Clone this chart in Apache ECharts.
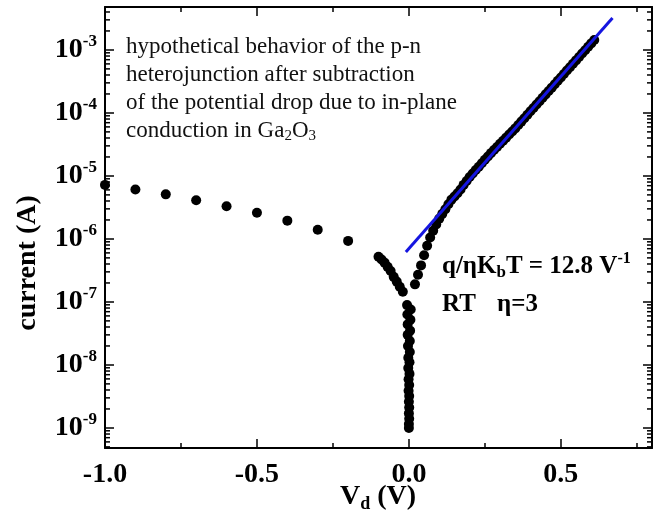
<!doctype html>
<html>
<head>
<meta charset="utf-8">
<title>iv-curve</title>
<script src="https://cdn.jsdelivr.net/npm/echarts@6/dist/echarts.min.js"></script>
<style>
    html,body{margin:0;padding:0;background:#fff;}
    #ID-Chart{width:657px;height:517px;}
</style>
</head>
<body>
<div id="ID-Chart"></div>
<script>
// reverse bias, coarse steps
var revV = [-1.0, -0.9, -0.8, -0.7, -0.6, -0.5, -0.4, -0.3, -0.2];
var revI = [7.2e-6, 6.1e-6, 5.1e-6, 4.1e-6, 3.3e-6, 2.6e-6, 1.95e-6, 1.4e-6, 9.3e-7];
// reverse bias close to zero
var nearV = [-0.10, -0.09, -0.08, -0.07, -0.06, -0.05, -0.04, -0.03, -0.02];
var nearI = [5.2e-7, 4.7e-7, 4.2e-7, 3.6e-7, 3.1e-7, 2.5e-7, 2.1e-7, 1.74e-7, 1.45e-7];
// the dip around 0 V
var colV = [-0.006, 0.006, -0.005, 0.005, -0.004, 0.004, -0.004, 0.003, -0.003, 0.003, -0.002, 0.002,
            -0.002, 0.002, -0.001, 0.001, -0.001, 0.001, 0.0, 0.001, 0.0, 0.001, 0.0, 0.0];
var colI = [8.9e-8, 7.6e-8, 6.3e-8, 5.2e-8, 4.4e-8, 3.5e-8, 3.0e-8, 2.4e-8, 2.0e-8, 1.6e-8, 1.3e-8, 1.1e-8,
            8.9e-9, 7.2e-9, 5.9e-9, 4.8e-9, 3.9e-9, 3.2e-9, 2.6e-9, 2.1e-9, 1.7e-9, 1.4e-9, 1.15e-9, 1.0e-9];
// forward bias
var fwdV = [0.02, 0.03, 0.04, 0.05, 0.06, 0.07, 0.08, 0.09, 0.10, 0.11, 0.12, 0.13, 0.14, 0.15, 0.16, 0.17,
            0.18, 0.19, 0.20, 0.21, 0.22, 0.23, 0.24, 0.25, 0.26, 0.27, 0.28, 0.29, 0.30, 0.31, 0.32, 0.33,
            0.34, 0.35, 0.36, 0.37, 0.38, 0.39, 0.40, 0.41, 0.42, 0.43, 0.44, 0.45, 0.46, 0.47, 0.48, 0.49,
            0.50, 0.51, 0.52, 0.53, 0.54, 0.55, 0.56, 0.57, 0.58, 0.59, 0.60, 0.61];
var fwdI = [1.9e-7, 2.7e-7, 3.8e-7, 5.5e-7, 7.8e-7, 1.05e-6, 1.35e-6, 1.7e-6, 2.1e-6, 2.5e-6, 2.95e-6, 3.55e-6,
            4.2e-6, 4.7e-6, 5.3e-6, 6.1e-6, 7.2e-6, 8.3e-6, 9.6e-6, 1.09e-5, 1.24e-5, 1.4e-5, 1.59e-5, 1.8e-5,
            2.03e-5, 2.3e-5, 2.58e-5, 2.88e-5, 3.23e-5, 3.61e-5, 4.05e-5, 4.53e-5, 5.07e-5, 5.68e-5, 6.43e-5, 7.28e-5,
            8.24e-5, 9.33e-5, 1.06e-4, 1.2e-4, 1.36e-4, 1.53e-4, 1.74e-4, 1.97e-4, 2.23e-4, 2.52e-4, 2.86e-4, 3.24e-4,
            3.66e-4, 4.15e-4, 4.7e-4, 5.32e-4, 6.03e-4, 6.82e-4, 7.73e-4, 8.75e-4, 9.91e-4, 1.12e-3, 1.27e-3, 1.44e-3];
// fitted line q/nkT = 12.8 1/V
var fitV = [-0.01, 0.67];
var fitI = [6.2e-7, 3.2e-3];

// axes
var xMin = -1.0, xMax = 0.8;
var yMin = 4.8e-10, yMax = 4.8e-3;
var xTickStep = 0.5, xMinorStep = 0.25;

function pairs(xs, ys){
    var out = [];
    for (var i = 0; i < xs.length; i++) out.push([xs[i], ys[i]]);
    return out;
}

// log minor ticks 2..9 per decade
function minorTickValues(){
    var list = [];
    for (var k = -10; k <= -3; k++) {
        for (var m = 2; m <= 9; m++) {
            var v = m * Math.pow(10, k);
            if (v > yMin && v < yMax) list.push([xMin, v]);
        }
    }
    return list;
}

var serif = 'Liberation Serif';

function xAxisCfg(pos, step, len, showLine, showLabel){
    return {
        type: 'value', position: pos, min: xMin, max: xMax, interval: step,
        axisLine: {show: showLine, onZero: false, lineStyle: {color: '#000', width: 2}},
        axisTick: {show: true, inside: true, length: len, lineStyle: {color: '#000', width: 1.5}},
        splitLine: {show: false},
        axisLabel: {
            show: showLabel, margin: 13, color: '#000',
            fontFamily: serif, fontWeight: 'bold', fontSize: 28,
            formatter: function(v){
                if (Math.abs(v * 2 - Math.round(v * 2)) > 1e-6) return '';
                return v.toFixed(1);
            }
        }
    };
}

function yAxisCfg(pos, showLabel){
    return {
        type: 'log', position: pos, min: yMin, max: yMax, logBase: 10,
        axisLine: {show: true, onZero: false, lineStyle: {color: '#000', width: 2}},
        axisTick: {show: true, inside: true, length: 9, lineStyle: {color: '#000', width: 1.5}},
        splitLine: {show: false},
        axisLabel: {
            show: showLabel, margin: 8,
            formatter: function(v){
                var e = Math.log10(v), r = Math.round(e);
                if (Math.abs(e - r) > 0.01) return '';
                return '{b|10}{s|' + r + '}';
            },
            rich: {
                b: {fontFamily: serif, fontWeight: 'bold', fontSize: 28, color: '#000'},
                s: {fontFamily: serif, fontWeight: 'bold', fontSize: 17, color: '#000', padding: [0, 0, 16, 0]}
            }
        }
    };
}

function initChart(){
    var chart = echarts.init(document.getElementById('ID-Chart'), null, {renderer: 'canvas'});
    var dot = {color: '#000', opacity: 1};
    var annot = 'bold 25px "Liberation Serif"';

    var option = {
        animation: false,
        backgroundColor: '#fff',
        grid: {left: 105, right: 5, top: 7, bottom: 69, containLabel: false, outerBoundsMode: 'none'},
        xAxis: [
            xAxisCfg('bottom', xTickStep, 9, true, true),
            xAxisCfg('bottom', xMinorStep, 5, false, false),
            xAxisCfg('top', xTickStep, 9, true, false),
            xAxisCfg('top', xMinorStep, 5, false, false)
        ],
        yAxis: [yAxisCfg('left', true), yAxisCfg('right', false)],
        graphic: [
            {
                // axis titles placed by hand
                type: 'text', x: 378, y: 497, silent: true,
                style: {
                    text: '{v|V}{d|d}{v| (V)}', align: 'center', verticalAlign: 'middle',
                    rich: {
                        v: {fontFamily: serif, fontWeight: 'bold', fontSize: 28, fill: '#000'},
                        d: {fontFamily: serif, fontWeight: 'bold', fontSize: 18, fill: '#000', padding: [14, 0, 0, 0]}
                    }
                }
            },
            {
                type: 'text', x: 28, y: 263, rotation: Math.PI / 2, silent: true,
                style: {text: 'current (A)', align: 'center', verticalAlign: 'middle',
                        font: 'bold 28px "Liberation Serif"', fill: '#000'}
            },
            {
                type: 'text', left: 126, top: 35, silent: true,
                style: {
                    text: '{t|hypothetical behavior of the p-n}\n{t|heterojunction after subtraction}\n' +
                          '{t|of the potential drop due to in-plane}\n{t|conduction in Ga}{s|2}{t|O}{s|3}',
                    rich: {
                        t: {fontFamily: serif, fontSize: 23, lineHeight: 28, fill: '#111'},
                        s: {fontFamily: serif, fontSize: 15, fill: '#111', padding: [12, 0, 0, 0]}
                    }
                }
            },
            {
                type: 'text', left: 442, top: 251, silent: true,
                style: {
                    text: '{b|q/\u03b7K}{d|b}{b|T = 12.8 V}{u|-1}',
                    rich: {
                        b: {fontFamily: serif, fontWeight: 'bold', fontSize: 25, fill: '#000'},
                        d: {fontFamily: serif, fontWeight: 'bold', fontSize: 17, fill: '#000', padding: [13, 0, 0, 0]},
                        u: {fontFamily: serif, fontWeight: 'bold', fontSize: 16, fill: '#000', padding: [0, 0, 15, 0]}
                    }
                }
            },
            {type: 'text', left: 442, top: 292, silent: true, style: {text: 'RT', font: annot, fill: '#000'}},
            {type: 'text', left: 497, top: 292, silent: true, style: {text: '\u03b7=3', font: annot, fill: '#000'}}
        ],
        series: [
            {
                name: 'minor', type: 'custom', xAxisIndex: 0, yAxisIndex: 0, silent: true, z: 5,
                data: minorTickValues(),
                renderItem: function(params, api){
                    var v = api.value(1);
                    var pl = api.coord([xMin, v]);
                    var pr = api.coord([xMax, v]);
                    var st = {stroke: '#000', lineWidth: 1.5};
                    return {type: 'group', children: [
                        {type: 'line', shape: {x1: pl[0], y1: pl[1], x2: pl[0] + 5, y2: pl[1]}, style: st},
                        {type: 'line', shape: {x1: pr[0], y1: pr[1], x2: pr[0] - 5, y2: pr[1]}, style: st}
                    ]};
                }
            },
            {name: 'reverse', type: 'scatter', symbolSize: 10, itemStyle: dot, data: pairs(revV, revI), z: 3},
            {name: 'near', type: 'scatter', symbolSize: 10, itemStyle: dot, data: pairs(nearV, nearI), z: 3},
            {name: 'dip', type: 'scatter', symbolSize: 10, itemStyle: dot, data: pairs(colV, colI), z: 3},
            {name: 'forward', type: 'scatter', symbolSize: 10, itemStyle: dot, data: pairs(fwdV, fwdI), z: 3},
            {
                name: 'fit', type: 'line', showSymbol: false, z: 4,
                lineStyle: {color: '#1515e0', width: 3},
                data: pairs(fitV, fitI)
            }
        ]
    };
    chart.setOption(option);
}

window.addEventListener('load', function(){
    initChart();
}, false);
</script>
</body>
</html>
